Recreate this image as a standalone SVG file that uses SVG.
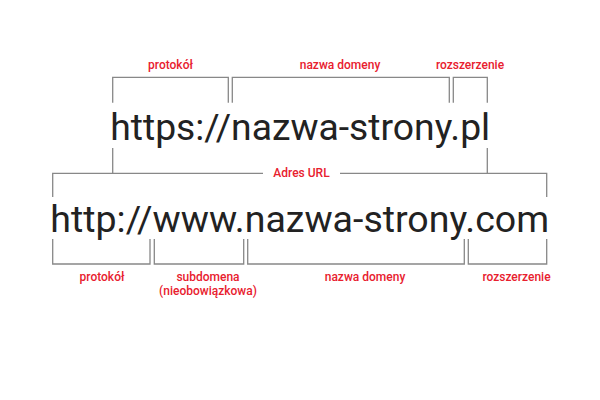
<svg xmlns="http://www.w3.org/2000/svg" width="600" height="400" viewBox="0 0 600 400">
<style>
.lbl{font-family:Roboto,"Liberation Sans",sans-serif;font-size:12px;font-weight:500;fill:#e8202e;text-anchor:middle}
.url{font-family:Roboto,"Liberation Sans",sans-serif;font-size:36.8px;fill:#222}
.br{fill:none;stroke:#888;stroke-width:1.3}
</style>
<rect width="600" height="400" fill="#fff"/>
<g id="connectors">
<path class="br" d="M112.7,102.7V77.3H228.3V102.7"/>
<path class="br" d="M232.3,102.7V77.3H449.3V102.7"/>
<path class="br" d="M453.3,102.7V77.3H487.3V102.7"/>
<path class="br" d="M112.7,148V173.3M487.3,148V173.3"/>
<path class="br" d="M52.7,197V173.3H263M340,173.3H546.7V197"/>
<path class="br" d="M52.7,239V264H150V239"/>
<path class="br" d="M154.3,239V264H243.7V239"/>
<path class="br" d="M247.7,239V264H464.3V239"/>
<path class="br" d="M468.3,239V264H546.7V239"/>
</g>
<g id="url1"><text class="url" x="110.2" y="139.5" textLength="380" lengthAdjust="spacingAndGlyphs">https://nazwa-strony.pl</text></g>
<g id="url2"><text class="url" x="50.3" y="231.5" textLength="498.8" lengthAdjust="spacingAndGlyphs">http://www.nazwa-strony.com</text></g>
<g id="top-labels">
<text class="lbl" x="170.5" y="69">protokół</text>
<text class="lbl" x="340" y="69">nazwa domeny</text>
<text class="lbl" x="470" y="69">rozszerzenie</text>
</g>
<g id="adres"><text class="lbl" x="301.5" y="176.5">Adres URL</text></g>
<g id="bottom-labels">
<text class="lbl" x="102" y="281">protokół</text>
<text class="lbl" x="208" y="281">subdomena</text>
<text class="lbl" x="208" y="295">(nieobowiązkowa)</text>
<text class="lbl" x="365" y="281">nazwa domeny</text>
<text class="lbl" x="516.5" y="281">rozszerzenie</text>
</g>
</svg>
